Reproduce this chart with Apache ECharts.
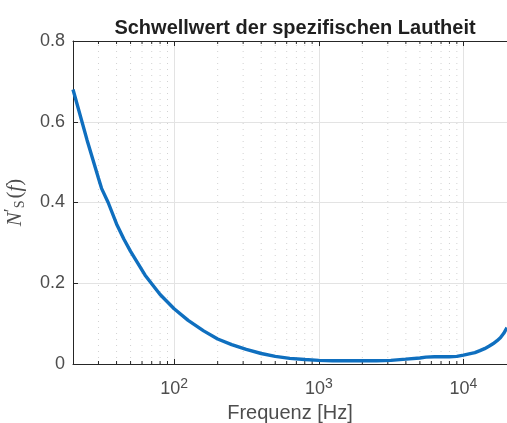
<!DOCTYPE html>
<html><head><meta charset="utf-8">
<script src="https://cdn.jsdelivr.net/npm/echarts@6/dist/echarts.min.js"></script>
<style>html,body{margin:0;padding:0;background:#fff;}#c{width:507px;height:423px;}</style>
</head><body><div id="c"></div>
<script>
const freqs = [20, 25, 30, 31.5, 35, 40, 45, 50, 63, 80, 100, 125, 160, 200, 250, 315, 400, 500, 630, 800, 1000, 1250, 1600, 2000, 2500, 3150, 4000, 5000, 5500, 6300, 8000, 9000, 10000, 12000, 13000, 14000, 15000, 16000, 17000, 18000, 19000, 20000];
const threshold = [0.68, 0.555, 0.46, 0.435, 0.40, 0.347, 0.309, 0.279, 0.22, 0.172, 0.137, 0.108, 0.082, 0.062, 0.048, 0.036, 0.026, 0.019, 0.014, 0.011, 0.009, 0.008, 0.008, 0.008, 0.008, 0.009, 0.012, 0.015, 0.017, 0.018, 0.018, 0.019, 0.022, 0.028, 0.033, 0.038, 0.044, 0.050, 0.057, 0.065, 0.076, 0.090];
const minorTicks = [30, 40, 50, 60, 70, 80, 90, 200, 300, 400, 500, 600, 700, 800, 900, 2000, 3000, 4000, 5000, 6000, 7000, 8000, 9000];
const yTicks = [0, 0.2, 0.4, 0.6, 0.8];
const titleText = 'Schwellwert der spezifischen Lautheit';
const xName = 'Frequenz [Hz]';

const chart = echarts.init(document.getElementById('c'));
const axisColor = '#262626';
const labelColor = '#4d4d4d';
const fontFam = '"Liberation Sans", Arial, Helvetica, sans-serif';
const serif = '"Liberation Serif", "DejaVu Serif", serif';

chart.setOption({
  animation: false,
  title: {
    text: titleText, left: 290, top: 13, textAlign: 'center',
    textStyle: {fontFamily: fontFam, fontWeight: 'bold', fontSize: 20, color: '#1f1f1f'}
  },
  grid: {left: 73, right: 0, top: 41, bottom: 59, show: false, containLabel: false, outerBoundsMode: 'none'},
  xAxis: [{
    type: 'log', logBase: 10, min: 20, max: 20000,
    axisLine: {lineStyle: {color: axisColor, width: 1}},
    axisTick: {inside: true, length: 5, lineStyle: {color: axisColor}},
    splitLine: {show: true, lineStyle: {color: '#e3e3e3', width: 1}},
    axisLabel: {
      margin: 13, color: labelColor, fontFamily: fontFam, fontSize: 18,
      formatter: function (v) {
        const e = Math.log10(v);
        if (Math.abs(e - Math.round(e)) < 1e-6) return '10{sup|' + Math.round(e) + '}';
        return '';
      },
      rich: {sup: {fontSize: 14, verticalAlign: 'bottom', padding: [0, 0, 11, 0], color: labelColor, fontFamily: fontFam}}
    },
    name: xName, nameLocation: 'middle', nameGap: 39,
    nameTextStyle: {fontFamily: fontFam, fontSize: 20, color: labelColor}
  }, {
    type: 'log', logBase: 10, min: 20, max: 20000, position: 'top',
    axisLine: {lineStyle: {color: axisColor, width: 1}},
    axisTick: {inside: true, length: 5, lineStyle: {color: axisColor}},
    axisLabel: {show: false}, splitLine: {show: false}
  }],
  yAxis: {
    type: 'value', min: 0, max: 0.8, interval: 0.2,
    axisLine: {show: true, lineStyle: {color: axisColor, width: 1}},
    axisTick: {show: true, inside: true, length: 5, lineStyle: {color: axisColor}},
    splitLine: {show: true, lineStyle: {color: '#e3e3e3', width: 1}},
    axisLabel: {margin: 8, color: labelColor, fontFamily: fontFam, fontSize: 18,
      formatter: function (v) { return String(+v.toFixed(1)); }},
    name: '{n|N}{p|′}{s|S}{r|(}{n|f}{r|)}', nameLocation: 'middle', nameGap: 46, nameRotate: 90,
    nameTextStyle: {
      color: labelColor,
      rich: {
        n: {fontFamily: serif, fontStyle: 'italic', fontSize: 21, color: labelColor},
        p: {fontFamily: serif, fontSize: 18, verticalAlign: 'top', padding: [0, 0, 6, 0], color: labelColor},
        s: {fontFamily: serif, fontSize: 14, verticalAlign: 'bottom', padding: [8, 2, 0, 0], color: labelColor},
        r: {fontFamily: serif, fontSize: 21, color: labelColor}
      }
    }
  },
  series: [{
    type: 'custom', xAxisIndex: 0, silent: true, z: 1,
    data: minorTicks.map(f => [f]),
    renderItem: function (params, api) {
      const f = api.value(0);
      const p0 = api.coord([f, 0]);
      const p1 = api.coord([f, 0.8]);
      return {type: 'group', children: [
        {type: 'line', shape: {x1: p0[0], y1: p0[1], x2: p1[0], y2: p1[1]},
          style: {stroke: '#d2d2d2', lineWidth: 1, lineDash: [1, 5]}},
        {type: 'line', shape: {x1: p0[0], y1: p0[1], x2: p0[0], y2: p0[1] - 3},
          style: {stroke: axisColor, lineWidth: 1}},
        {type: 'line', shape: {x1: p1[0], y1: p1[1], x2: p1[0], y2: p1[1] + 3},
          style: {stroke: axisColor, lineWidth: 1}}
      ]};
    }
  }, {
    type: 'line', xAxisIndex: 0, z: 5,
    data: freqs.map((f, i) => [f, threshold[i]]),
    showSymbol: false, smooth: false,
    lineStyle: {color: '#0f6fbf', width: 3.4},
    clip: true
  }]
});
</script></body></html>
